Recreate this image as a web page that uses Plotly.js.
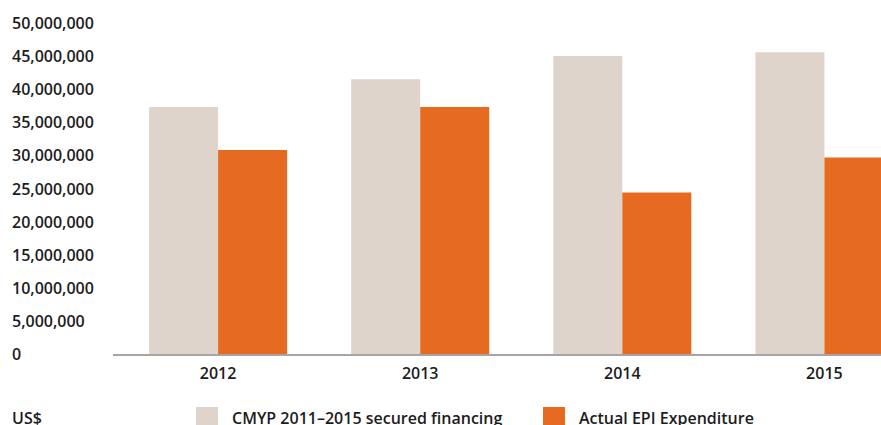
<!DOCTYPE html>
<html>
<head>
<meta charset="utf-8">
<script src="https://cdn.plot.ly/plotly-3.0.1.min.js"></script>
<style>
  html, body { margin: 0; padding: 0; background: #fff; }
  #myPlot { width: 881px; height: 425px; }
</style>
</head>
<body>
<div id="myPlot"></div>
<script>
// data
const years = ['2012', '2013', '2014', '2015'];
const cmypFinancing = [37300000, 41500000, 45000000, 45600000];
const epiExpenditure = [30800000, 37300000, 24400000, 29700000];
const seriesNames = ['CMYP 2011\u20132015 secured financing', 'Actual EPI Expenditure'];
const yTicks = [0, 5000000, 10000000, 15000000, 20000000, 25000000, 30000000, 35000000, 40000000, 45000000, 50000000];
const unitLabel = 'US$';

const colors = ['#ded4cb', '#e66a20'];
const textFont = { family: 'Open Sans, sans-serif', size: 16, color: '#1c1c1c', weight: 600 };

// plot box in px, used to turn pixel offsets into paper coords
const plotLeft = 113, plotWidth = 768, plotBottom = 354, plotHeight = 331;
function px(x) { return (x - plotLeft) / plotWidth; }
function py(y) { return (plotBottom - y) / plotHeight; }

const traces = [
  { type: 'bar', x: years, y: cmypFinancing, name: seriesNames[0], marker: { color: colors[0] }, hoverinfo: 'none' },
  { type: 'bar', x: years, y: epiExpenditure, name: seriesNames[1], marker: { color: colors[1] }, hoverinfo: 'none' }
];

const annotations = [];
// y tick labels, left aligned like the original
yTicks.forEach(function (v) {
  annotations.push({
    xref: 'paper', yref: 'y', x: px(10), y: v, xanchor: 'left', yanchor: 'middle',
    text: v.toLocaleString('en-US'), showarrow: false, font: textFont
  });
});
annotations.push({
  xref: 'paper', yref: 'paper', x: px(10), y: py(418), xanchor: 'left', yanchor: 'middle',
  text: unitLabel, showarrow: false, font: textFont
});

// hand made legend (bigger squares than plotly's own)
const legendX = [196, 543];
const shapes = [];
seriesNames.forEach(function (name, i) {
  shapes.push({
    type: 'rect', xref: 'paper', yref: 'paper',
    x0: px(legendX[i]), x1: px(legendX[i] + 22), y0: py(407), y1: py(429),
    fillcolor: colors[i], line: { width: 0 }
  });
  annotations.push({
    xref: 'paper', yref: 'paper', x: px(legendX[i] + 34), y: py(418), xanchor: 'left', yanchor: 'middle',
    text: name, showarrow: false, font: textFont
  });
});

const layout = {
  width: 881,
  height: 425,
  margin: { l: plotLeft, r: 0, t: 23, b: 71, pad: 0 },
  paper_bgcolor: '#fff',
  plot_bgcolor: '#fff',
  showlegend: false,
  barmode: 'group',
  bargap: 0.317,
  bargroupgap: 0,
  font: textFont,
  xaxis: {
    type: 'category',
    range: [-0.52, 3.28],
    showline: true,
    linecolor: '#a9a4a4',
    linewidth: 1.5,
    ticks: '',
    showgrid: false,
    zeroline: false,
    tickfont: textFont,
    ticklabelstandoff: 4
  },
  yaxis: {
    range: [0, 50000000],
    showticklabels: false,
    showgrid: false,
    zeroline: false,
    showline: false,
    ticks: ''
  },
  annotations: annotations,
  shapes: shapes
};

Plotly.newPlot('myPlot', traces, layout, { staticPlot: true });
</script>
</body>
</html>
